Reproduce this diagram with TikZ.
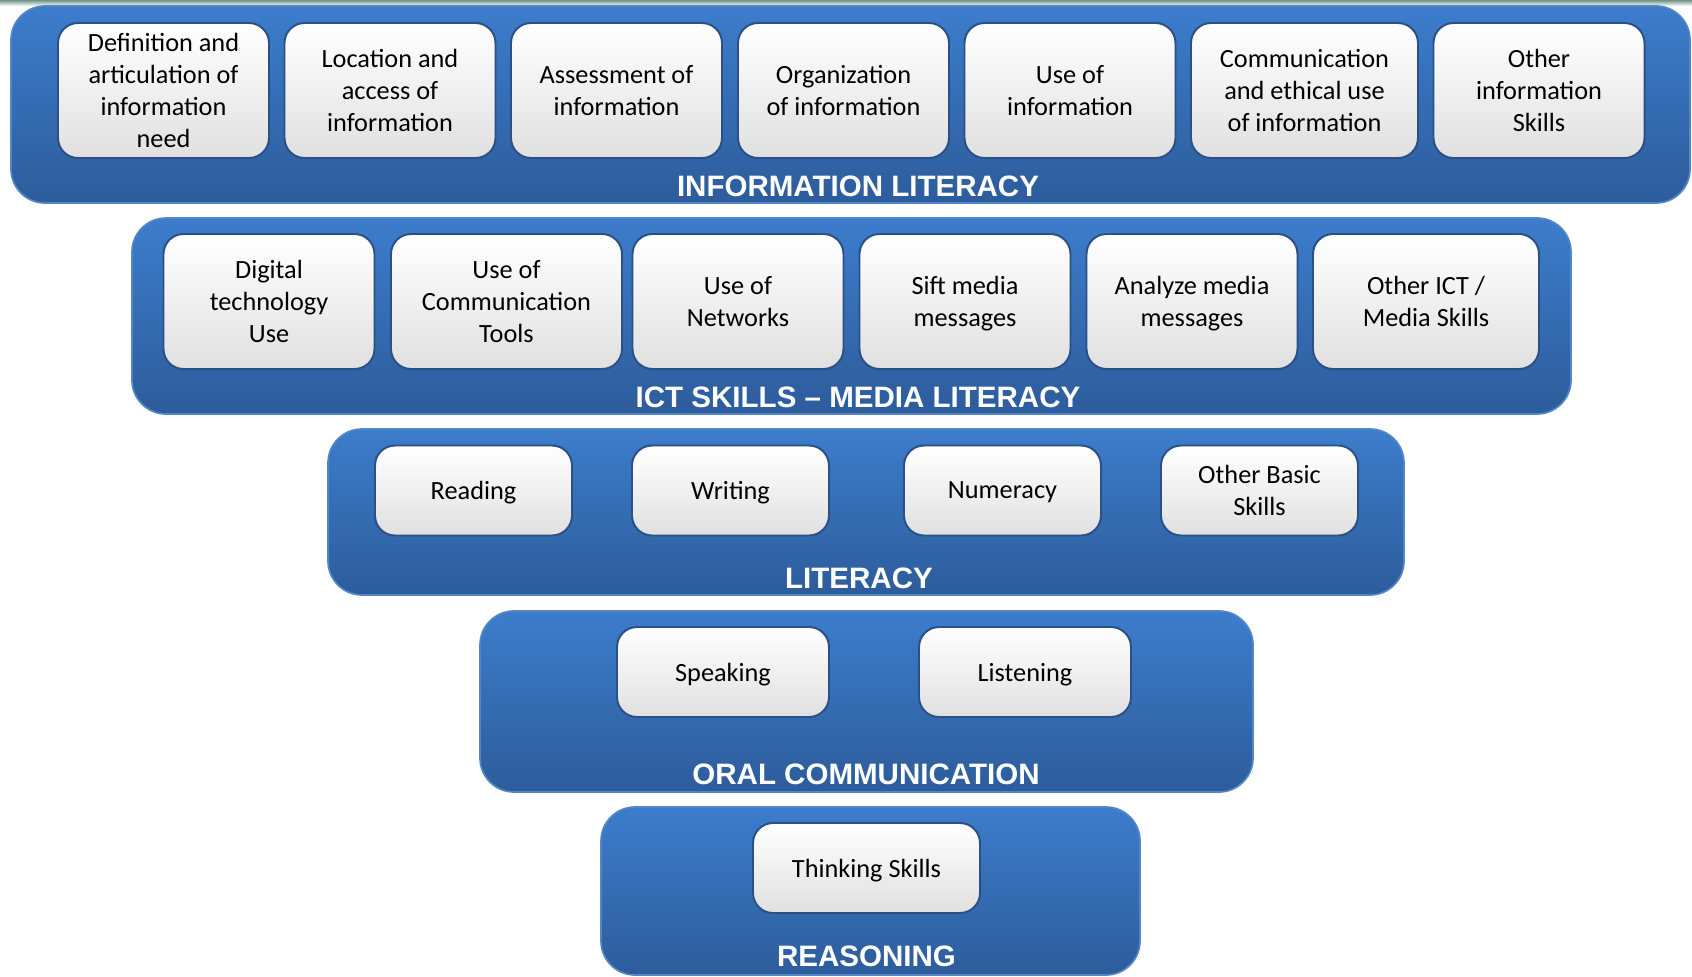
\documentclass[tikz,border=0pt]{standalone}
\usepackage{fontspec}
\setmainfont{Carlito}
\newfontfamily\labelfont{Liberation Sans}
\usepackage{tikz}

\newcommand\pxl{0.025cm}
\definecolor{bandtop}{HTML}{3C7DCC}
\definecolor{bandbot}{HTML}{2D5C9B}
\definecolor{bandline}{HTML}{5286C6}
\definecolor{boxline}{HTML}{2B5085}
\definecolor{boxbot}{HTML}{E0E0E0}
\definecolor{stripgreen}{HTML}{6E9488}

\tikzset{
    band/.style={rounded corners=0.85cm, top color=bandtop, bottom color=bandbot,
        draw=bandline, line width=1.2pt, inner sep=0pt, outer sep=0pt},
    skill/.style={rounded corners=0.5cm, top color=white, bottom color=boxbot,
        draw=boxline, line width=1.4pt, align=center, inner sep=0pt, outer sep=0pt,
        text depth=0pt, minimum width=211*\pxl, font=\fontsize{18.7}{22.8}\selectfont},
    tallskill/.style={skill, minimum height=135*\pxl},
    lowskill/.style={skill, minimum height=90*\pxl},
    bandlabel/.style={text=white, inner sep=0pt,
        font=\labelfont\bfseries\fontsize{21}{24}\selectfont}
}

\begin{document}
\begin{tikzpicture}[x=0.025cm,y=-0.025cm]
                \useasboundingbox (0,0) rectangle (1692,976);
                \fill[top color=stripgreen, bottom color=white] (0,0) rectangle (1692,6);

                \node[band, minimum width=1679*\pxl, minimum height=197*\pxl] (infoband) at (850.5,104.5) {};
                \node[band, minimum width=1439*\pxl, minimum height=196*\pxl] (ictband) at (851.5,316) {};
                \node[band, minimum width=1076*\pxl, minimum height=166*\pxl] (litband) at (866,512) {};
                \node[band, minimum width=773*\pxl, minimum height=181*\pxl] (oralband) at (866.5,701.5) {};
                \node[band, minimum width=539*\pxl, minimum height=168*\pxl] (reasonband) at (870.5,891) {};

                \node[tallskill] (define) at (163.5,90.5) {Definition and\\articulation of\\information\\need};
                \node[tallskill] (locate) at (390,90.5) {Location and\\access of\\information};
                \node[tallskill] (assess) at (616.5,90.5) {Assessment of\\information};
                \node[tallskill] (organize) at (843.5,90.5) {Organization\\of information};
                \node[tallskill] (useinfo) at (1070,90.5) {Use of\\information};
                \node[tallskill, minimum width=227*\pxl] (ethical) at (1304.5,90.5) {Communication\\and ethical use\\of information};
                \node[tallskill] (otherinfo) at (1539,90.5) {Other\\information\\Skills};
                \node[bandlabel] (infolabel) at (858,186) {INFORMATION LITERACY};

                \node[tallskill] (digital) at (269,301.5) {Digital\\technology\\Use};
                \node[tallskill, minimum width=231*\pxl] (commtools) at (506.5,301.5) {Use of\\Communication\\Tools};
                \node[tallskill] (networks) at (738,301.5) {Use of\\Networks};
                \node[tallskill] (sift) at (965,301.5) {Sift media\\messages};
                \node[tallskill] (analyze) at (1192,301.5) {Analyze media\\messages};
                \node[tallskill, minimum width=226*\pxl] (otherict) at (1426,301.5) {Other ICT /\\Media Skills};
                \node[bandlabel] (ictlabel) at (858,397) {ICT SKILLS – MEDIA LITERACY};

                \node[lowskill, minimum width=197*\pxl] (reading) at (473.5,490.5) {Reading};
                \node[lowskill, minimum width=197*\pxl] (writing) at (730.5,490.5) {Writing};
                \node[lowskill, minimum width=197*\pxl] (numeracy) at (1002.5,490.5) {Numeracy};
                \node[lowskill, minimum width=197*\pxl] (otherbasic) at (1259.5,490.5) {Other Basic\\Skills};
                \node[bandlabel] (litlabel) at (859,578) {LITERACY};

                \node[lowskill, minimum width=212*\pxl] (speaking) at (723,672) {Speaking};
                \node[lowskill, minimum width=212*\pxl] (listening) at (1025,672) {Listening};
                \node[bandlabel] (orallabel) at (866,774) {ORAL COMMUNICATION};

                \node[lowskill, minimum width=227*\pxl] (thinking) at (866.5,868) {Thinking Skills};
                \node[bandlabel] (reasonlabel) at (866.5,956) {REASONING};
            \end{tikzpicture}
\end{document}
